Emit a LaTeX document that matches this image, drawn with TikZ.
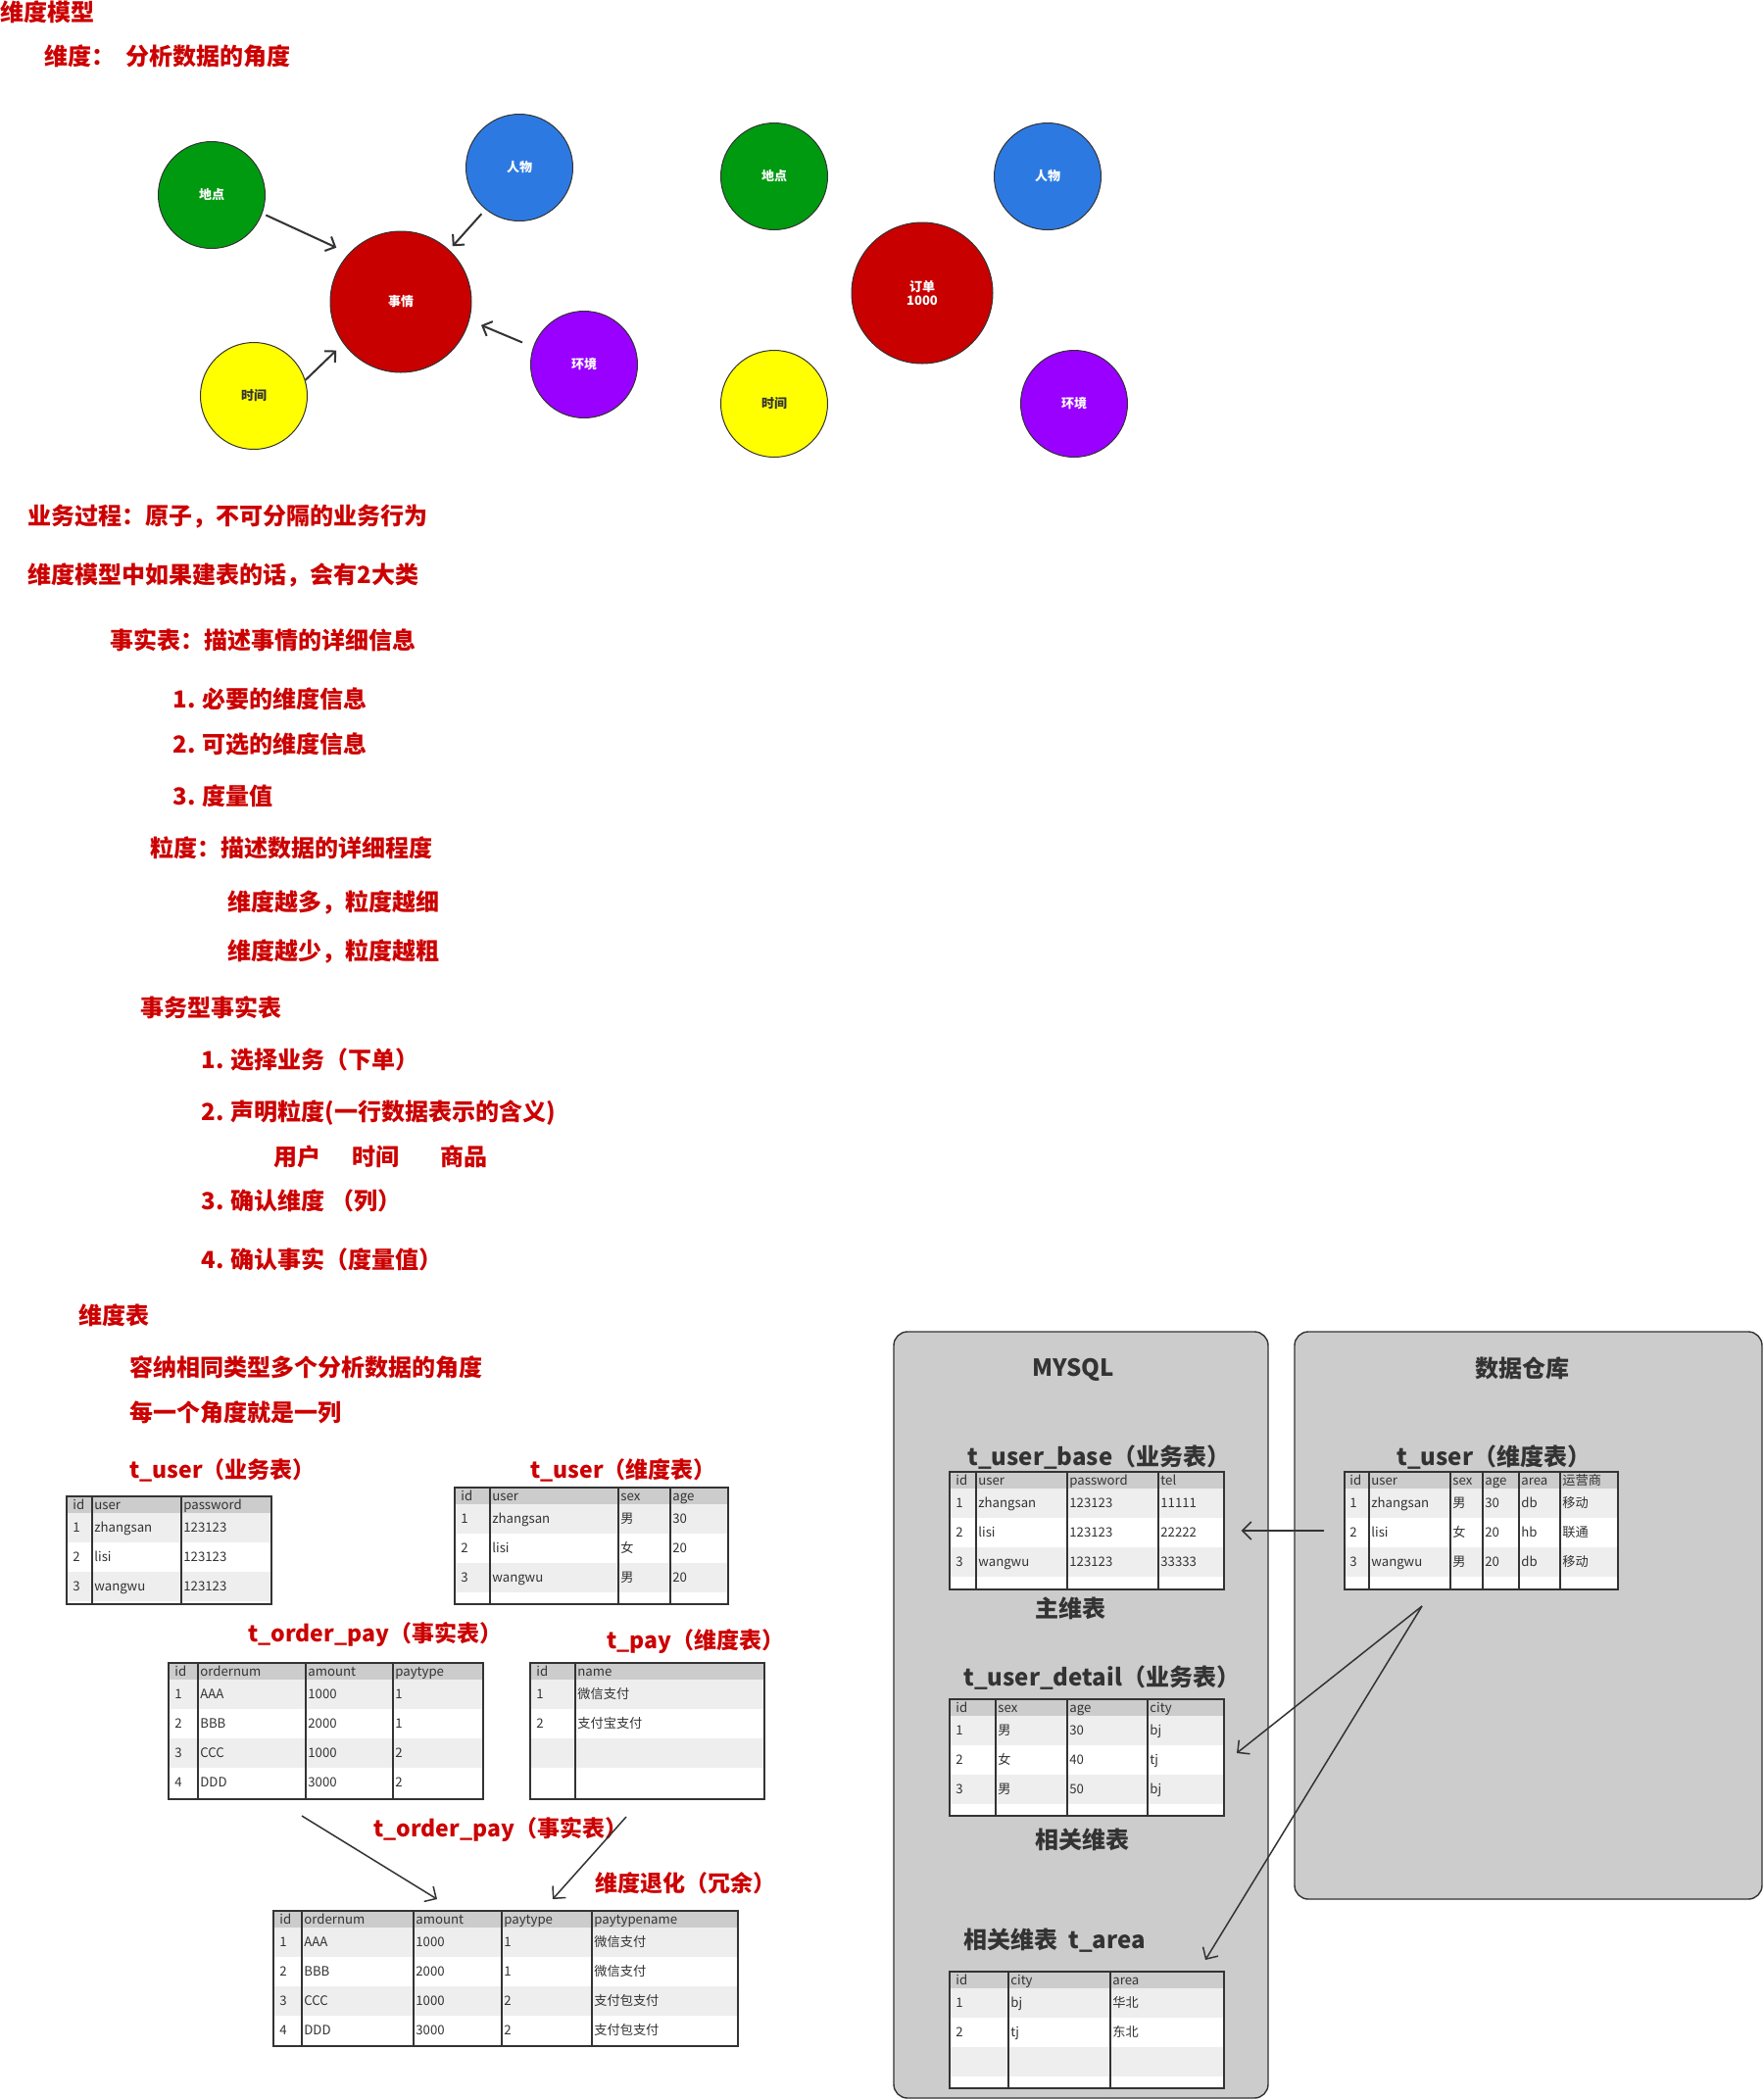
\documentclass[tikz,border=0pt]{standalone}
\usepackage{fontspec}
\setmainfont{Noto Sans CJK SC}
\usetikzlibrary{arrows.meta,fit}
\definecolor{redt}{RGB}{204,0,0}
\definecolor{dk}{RGB}{51,51,51}
\definecolor{hdrc}{RGB}{204,204,204}
\definecolor{stripec}{RGB}{238,238,238}
\definecolor{panelc}{RGB}{204,204,204}
\definecolor{cgreen}{RGB}{0,154,16}
\definecolor{cblue}{RGB}{45,121,226}
\definecolor{cred}{RGB}{200,0,0}
\definecolor{cyellow}{RGB}{255,255,0}
\definecolor{cpurple}{RGB}{153,0,255}
\tikzset{
  redtxt/.style={anchor=west, inner sep=0pt, text=redt, text height=10.5pt, text depth=1.5pt, font=\fontsize{12pt}{14pt}\selectfont\bfseries},
  ttl/.style={anchor=west, inner sep=0pt, text=redt, text height=10.1pt, text depth=1.4pt, font=\fontsize{11.5pt}{14pt}\selectfont\bfseries},
  ptxt/.style={anchor=west, inner sep=0pt, text=dk, text height=10.5pt, text depth=1.5pt, font=\fontsize{12pt}{14pt}\selectfont\bfseries},
  cell/.style={anchor=west, inner sep=0pt, text=dk, text height=5.7pt, text depth=0.8pt, font=\fontsize{6.6pt}{8pt}\selectfont},
  circ/.style={circle, draw=dk, line width=0.5pt, minimum size=54.5pt, inner sep=0pt, text=white, font=\fontsize{6.5pt}{7pt}\selectfont\bfseries, align=center},
  bigcirc/.style={circ, minimum size=72pt},
  arr/.style={draw=dk, line width=1pt, -{Straight Barb[length=4pt,width=8pt]}},
  arrb/.style={draw=dk, line width=0.75pt, -{Straight Barb[length=4.5pt,width=9pt]}},
  panel/.style={draw=dk, fill=panelc, line width=0.7pt, rounded corners=7pt, inner sep=0pt},
}
\newcommand{\dbtable}[7]{%
  \fill[white] (#2,#3) rectangle (#4,#5);
  \fill[hdrc] (#2,#3) rectangle (#4,#3+17);
  \foreach \r in {1,...,#6}{%
    \ifodd\r\relax \fill[stripec] (#2,{#3+17+30*(\r-1)}) rectangle (#4,{#3+17+30*\r});\fi}
  \foreach \c in {#7}{\draw[dk, line width=0.6pt] (\c,#3) -- (\c,#5);}
  \node[fit={(#2,#3) (#4,#5)}, inner sep=0pt, draw=dk, line width=0.7pt] (#1) {};
}
\newcommand{\trow}[3]{%
  \foreach \cx/\ct [count=\k] in {#3}{\node[cell] (#1-\k) at (\cx,#2) {\ct};}
}
\begin{document}
\begin{tikzpicture}[x=0.5pt,y=-0.5pt]
\useasboundingbox (0,0) rectangle (1800,2143);
\fill[white] (0,0) rectangle (1800,2143);

% ---------- text block ----------
\node[redtxt] (t1) at (0,12) {维度模型};
\node[redtxt] (t2) at (45,57) {维度：~~分析数据的角度};
\node[redtxt] (t3) at (28,526) {业务过程：原子，不可分隔的业务行为};
\node[redtxt] (t4) at (28,586) {维度模型中如果建表的话，会有2大类};
\node[redtxt] (t5) at (112,653) {事实表：描述事情的详细信息};
\node[redtxt] (t6) at (176,713) {1. 必要的维度信息};
\node[redtxt] (t7) at (176,759) {2. 可选的维度信息};
\node[redtxt] (t8) at (176,812) {3. 度量值};
\node[redtxt] (t9) at (153,865) {粒度：描述数据的详细程度};
\node[redtxt] (t10) at (232,920) {维度越多，粒度越细};
\node[redtxt] (t11) at (232,970) {维度越少，粒度越粗};
\node[redtxt] (t12) at (143,1028) {事务型事实表};
\node[redtxt] (t13) at (205,1081) {1. 选择业务（下单）};
\node[redtxt] (t14) at (205,1134) {2. 声明粒度(一行数据表示的含义)};
\node[redtxt] (t15) at (279,1180) {用户\hspace{16pt}时间\hspace{21pt}商品};
\node[redtxt] (t16) at (205,1225) {3. 确认维度 （列）};
\node[redtxt] (t17) at (205,1285) {4. 确认事实（度量值）};
\node[redtxt] (t18) at (80,1342) {维度表};
\node[redtxt] (t19) at (132,1395) {容纳相同类型多个分析数据的角度};
\node[redtxt] (t20) at (132,1441) {每一个角度就是一列};

% ---------- circles, left ----------
\node[circ, fill=cgreen] (dd) at (216,199) {地点};
\node[circ, fill=cblue] (rw) at (530,171) {人物};
\node[bigcirc, fill=cred] (sq) at (409,308) {事情};
\node[circ, fill=cyellow, text=dk] (sj) at (259,404) {时间};
\node[circ, fill=cpurple] (hj) at (596,372) {环境};
\draw[arr, shorten <=2pt, shorten >=7pt] (dd.-20) -- (sq.137);
\draw[arr, shorten <=3pt, shorten >=2.5pt] (rw.231) -- (sq.47);
\draw[arr, shorten <=6pt, shorten >=6.5pt] (hj.161) -- (sq.-15);
\draw[arr, shorten >=5pt] (sj.17) -- (sq.216);

% ---------- circles, right ----------
\node[circ, fill=cgreen] (dd2) at (790,180) {地点};
\node[circ, fill=cblue] (rw2) at (1069,180) {人物};
\node[bigcirc, fill=cred] (od) at (941,299) {订单\\1000};
\node[circ, fill=cyellow, text=dk] (sj2) at (790,412) {时间};
\node[circ, fill=cpurple] (hj2) at (1096,412) {环境};

% ---------- left tables ----------
\node[ttl] (ta-t) at (132,1500) {t\_user（业务表）};
\dbtable{ta}{68}{1527}{277}{1637}{3}{94,185}
\trow{ta0}{1535.5}{74/id,96/user,187/password}
\trow{ta1}{1559}{74/1,96/zhangsan,187/123123}
\trow{ta2}{1589}{74/2,96/lisi,187/123123}
\trow{ta3}{1619}{74/3,96/wangwu,187/123123}

\node[ttl] (tb-t) at (541,1500) {t\_user（维度表）};
\dbtable{tb}{464}{1518}{743}{1637}{3}{500,631,684}
\trow{tb0}{1526.5}{470/id,502/user,633/sex,686/age}
\trow{tb1}{1550}{470/1,502/zhangsan,633/男,686/30}
\trow{tb2}{1580}{470/2,502/lisi,633/女,686/20}
\trow{tb3}{1610}{470/3,502/wangwu,633/男,686/20}

\node[ttl] (tc-t) at (253,1667) {t\_order\_pay（事实表）};
\dbtable{tc}{172}{1697}{493}{1836}{4}{202,312,401}
\trow{tc0}{1705.5}{178/id,204/ordernum,314/amount,403/paytype}
\trow{tc1}{1729}{178/1,204/AAA,314/1000,403/1}
\trow{tc2}{1759}{178/2,204/BBB,314/2000,403/1}
\trow{tc3}{1789}{178/3,204/CCC,314/1000,403/2}
\trow{tc4}{1819}{178/4,204/DDD,314/3000,403/2}

\node[ttl] (td-t) at (619,1674) {t\_pay（维度表）};
\dbtable{td}{541}{1697}{780}{1836}{4}{587}
\trow{td0}{1705.5}{547/id,589/name}
\trow{td1}{1729}{547/1,589/微信支付}
\trow{td2}{1759}{547/2,589/支付宝支付}

\node[ttl] (te-t) at (381,1866) {t\_order\_pay（事实表）};
\node[ttl] (te-n) at (607,1922) {维度退化（冗余）};
\dbtable{te}{279}{1950}{753}{2088}{4}{308,422,512,604}
\trow{te0}{1958.5}{285/id,310/ordernum,424/amount,514/paytype,606/paytypename}
\trow{te1}{1982}{285/1,310/AAA,424/1000,514/1,606/微信支付}
\trow{te2}{2012}{285/2,310/BBB,424/2000,514/1,606/微信支付}
\trow{te3}{2042}{285/3,310/CCC,424/1000,514/2,606/支付包支付}
\trow{te4}{2072}{285/4,310/DDD,424/3000,514/2,606/支付包支付}

\coordinate (c1s) at (308,1853);
\coordinate (c1e) at (446,1938);
\coordinate (c2s) at (639,1854);
\coordinate (c2e) at (564,1938);
\draw[arrb] (c1s) -- (c1e);
\draw[arrb] (c2s) -- (c2e);

% ---------- right panels ----------
\node[panel, fit={(912,1359) (1294,2141)}] (pm) {};
\node[panel, fit={(1321,1359) (1798,1938)}] (pw) {};
\node[ptxt, anchor=center] (pm-t) at (1095,1395) {MYSQL};
\node[ptxt, anchor=center] (pw-t) at (1553,1396) {数据仓库};

\node[ptxt] (tf-t) at (987,1486) {t\_user\_base（业务表）};
\dbtable{tf}{969}{1502}{1249}{1622}{3}{996,1089,1182}
\trow{tf0}{1510.5}{975/id,998/user,1091/password,1184/tel}
\trow{tf1}{1534}{975/1,998/zhangsan,1091/123123,1184/11111}
\trow{tf2}{1564}{975/2,998/lisi,1091/123123,1184/22222}
\trow{tf3}{1594}{975/3,998/wangwu,1091/123123,1184/33333}
\node[ptxt] (tf-n) at (1056,1641) {主维表};

\node[ptxt] (tg-t) at (1425,1486) {t\_user（维度表）};
\dbtable{tg}{1372}{1502}{1651}{1622}{3}{1397,1480,1513,1550,1592}
\trow{tg0}{1510.5}{1377/id,1399/user,1482/sex,1515/age,1552/area,1594/运营商}
\trow{tg1}{1534}{1377/1,1399/zhangsan,1482/男,1515/30,1552/db,1594/移动}
\trow{tg2}{1564}{1377/2,1399/lisi,1482/女,1515/20,1552/hb,1594/联通}
\trow{tg3}{1594}{1377/3,1399/wangwu,1482/男,1515/20,1552/db,1594/移动}

\node[ptxt] (th-t) at (983,1711) {t\_user\_detail（业务表）};
\dbtable{th}{969}{1734}{1249}{1853}{3}{1016,1089,1171}
\trow{th0}{1742.5}{975/id,1018/sex,1091/age,1173/city}
\trow{th1}{1766}{975/1,1018/男,1091/30,1173/bj}
\trow{th2}{1796}{975/2,1018/女,1091/40,1173/tj}
\trow{th3}{1826}{975/3,1018/男,1091/50,1173/bj}
\node[ptxt] (th-n) at (1056,1877) {相关维表};

\node[ptxt] (ti-t) at (983,1979) {相关维表~~t\_area};
\dbtable{ti}{969}{2012}{1249}{2131}{3}{1029,1133}
\trow{ti0}{2020.5}{975/id,1031/city,1135/area}
\trow{ti1}{2044}{975/1,1031/bj,1135/华北}
\trow{ti2}{2074}{975/2,1031/tj,1135/东北}

\draw[arrb, shorten <=10pt, shorten >=8.5pt] (tg.west) -- (tf.east);
\coordinate (gs) at (1451,1639);
\coordinate (he) at (1262,1789);
\coordinate (ie) at (1230,2000);
\draw[arrb] (gs) -- (he);
\draw[arrb] (gs) -- (ie);
\end{tikzpicture}
\end{document}
